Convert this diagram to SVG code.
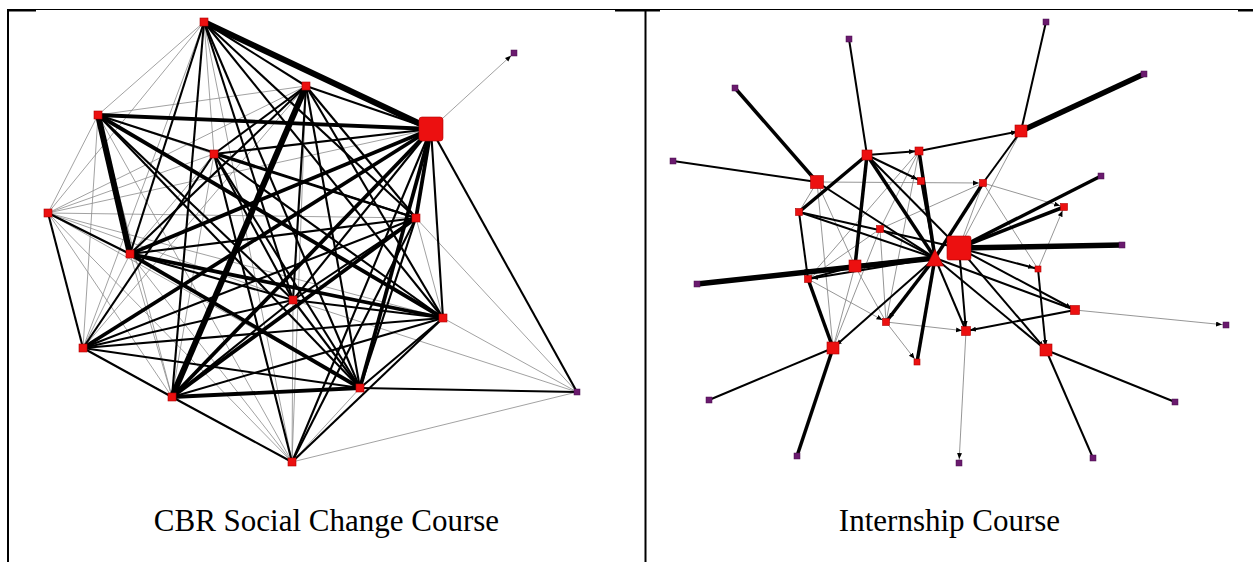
<svg xmlns="http://www.w3.org/2000/svg" width="1253" height="562" viewBox="0 0 1253 562">
<style>
.t{stroke:#8a8a8a;stroke-width:0.8;fill:none}
.m{stroke:#000;stroke-width:2.1;fill:none}
.k{stroke:#000;stroke-width:3.8;fill:none}
.x{stroke:#000;stroke-width:6;fill:none}
.rt{stroke:#8a8a8a;stroke-width:0.9;fill:none}
.rm{stroke:#000;stroke-width:2;fill:none}
.rk{stroke:#000;stroke-width:3.5;fill:none}
.rx{stroke:#000;stroke-width:5.5;fill:none}
.red{fill:#ec1010;stroke:#b00000;stroke-width:0.6}
.pur{fill:#6a1a6e;stroke:#4a0f4e;stroke-width:0.5}
.frame{stroke:#000;fill:none}
.lbl{font-family:"Liberation Serif","Times New Roman",serif;font-size:31px;fill:#000;text-anchor:middle}
</style>
<defs>
<marker id="ar" markerUnits="userSpaceOnUse" markerWidth="7" markerHeight="6" refX="10" refY="2.5" orient="auto">
<path d="M0,0 L6,2.5 L0,5 z" fill="#000"/>
</marker>
</defs>
<g id="frame">
<line class="frame" x1="7" y1="9.5" x2="1253" y2="9.5" stroke-width="1"/>
<line class="frame" x1="8" y1="9" x2="8" y2="562" stroke-width="2"/>
<line class="frame" x1="645.5" y1="9" x2="645.5" y2="562" stroke-width="2"/>
<line class="frame" x1="8" y1="10.5" x2="36" y2="10.5" stroke-width="2"/>
<line class="frame" x1="615" y1="10.5" x2="660" y2="10.5" stroke-width="2"/>
<line class="frame" x1="1238" y1="10.5" x2="1253" y2="10.5" stroke-width="2"/>
</g>
<g id="connectors-left">
<line class="t" x1="204" y1="22" x2="98" y2="115"/>
<line class="t" x1="204" y1="22" x2="214" y2="154"/>
<line class="t" x1="204" y1="22" x2="48" y2="213"/>
<line class="t" x1="204" y1="22" x2="83" y2="348"/>
<line class="t" x1="204" y1="22" x2="292" y2="462"/>
<line class="t" x1="306" y1="86" x2="98" y2="115"/>
<line class="t" x1="306" y1="86" x2="48" y2="213"/>
<line class="t" x1="306" y1="86" x2="83" y2="348"/>
<line class="t" x1="306" y1="86" x2="292" y2="462"/>
<line class="t" x1="431" y1="129" x2="48" y2="213"/>
<line class="t" x1="98" y1="115" x2="214" y2="154"/>
<line class="t" x1="98" y1="115" x2="48" y2="213"/>
<line class="t" x1="98" y1="115" x2="83" y2="348"/>
<line class="t" x1="98" y1="115" x2="172" y2="397"/>
<line class="t" x1="98" y1="115" x2="292" y2="462"/>
<line class="t" x1="214" y1="154" x2="48" y2="213"/>
<line class="t" x1="214" y1="154" x2="130" y2="254"/>
<line class="t" x1="214" y1="154" x2="172" y2="397"/>
<line class="t" x1="48" y1="213" x2="416" y2="218"/>
<line class="t" x1="48" y1="213" x2="293" y2="300"/>
<line class="t" x1="48" y1="213" x2="443" y2="318"/>
<line class="t" x1="48" y1="213" x2="172" y2="397"/>
<line class="t" x1="48" y1="213" x2="360" y2="388"/>
<line class="t" x1="48" y1="213" x2="292" y2="462"/>
<line class="t" x1="416" y1="218" x2="443" y2="318"/>
<line class="t" x1="130" y1="254" x2="83" y2="348"/>
<line class="t" x1="130" y1="254" x2="172" y2="397"/>
<line class="t" x1="130" y1="254" x2="292" y2="462"/>
<line class="t" x1="293" y1="300" x2="292" y2="462"/>
<line class="t" x1="83" y1="348" x2="292" y2="462"/>
<line class="t" x1="360" y1="388" x2="292" y2="462"/>
<line class="t" x1="431" y1="129" x2="514" y2="53" marker-end="url(#ar)"/>
<line class="t" x1="416" y1="218" x2="577" y2="392"/>
<line class="t" x1="443" y1="318" x2="577" y2="392"/>
<line class="t" x1="293" y1="300" x2="577" y2="392"/>
<line class="t" x1="292" y1="462" x2="577" y2="392"/>
<line class="m" x1="204" y1="22" x2="306" y2="86"/>
<line class="m" x1="204" y1="22" x2="416" y2="218"/>
<line class="m" x1="204" y1="22" x2="130" y2="254"/>
<line class="m" x1="204" y1="22" x2="293" y2="300"/>
<line class="m" x1="204" y1="22" x2="443" y2="318"/>
<line class="m" x1="204" y1="22" x2="172" y2="397"/>
<line class="m" x1="204" y1="22" x2="360" y2="388"/>
<line class="m" x1="306" y1="86" x2="431" y2="129"/>
<line class="m" x1="306" y1="86" x2="214" y2="154"/>
<line class="m" x1="306" y1="86" x2="416" y2="218"/>
<line class="m" x1="306" y1="86" x2="130" y2="254"/>
<line class="m" x1="306" y1="86" x2="293" y2="300"/>
<line class="m" x1="306" y1="86" x2="443" y2="318"/>
<line class="m" x1="306" y1="86" x2="360" y2="388"/>
<line class="m" x1="431" y1="129" x2="214" y2="154"/>
<line class="m" x1="431" y1="129" x2="293" y2="300"/>
<line class="m" x1="431" y1="129" x2="443" y2="318"/>
<line class="m" x1="431" y1="129" x2="292" y2="462"/>
<line class="m" x1="98" y1="115" x2="416" y2="218"/>
<line class="m" x1="98" y1="115" x2="293" y2="300"/>
<line class="m" x1="98" y1="115" x2="360" y2="388"/>
<line class="m" x1="214" y1="154" x2="416" y2="218"/>
<line class="m" x1="214" y1="154" x2="293" y2="300"/>
<line class="m" x1="214" y1="154" x2="443" y2="318"/>
<line class="m" x1="214" y1="154" x2="83" y2="348"/>
<line class="m" x1="214" y1="154" x2="360" y2="388"/>
<line class="m" x1="214" y1="154" x2="292" y2="462"/>
<line class="m" x1="48" y1="213" x2="130" y2="254"/>
<line class="m" x1="48" y1="213" x2="83" y2="348"/>
<line class="m" x1="416" y1="218" x2="130" y2="254"/>
<line class="m" x1="416" y1="218" x2="293" y2="300"/>
<line class="m" x1="416" y1="218" x2="83" y2="348"/>
<line class="m" x1="416" y1="218" x2="360" y2="388"/>
<line class="m" x1="416" y1="218" x2="292" y2="462"/>
<line class="m" x1="130" y1="254" x2="293" y2="300"/>
<line class="m" x1="293" y1="300" x2="443" y2="318"/>
<line class="m" x1="293" y1="300" x2="83" y2="348"/>
<line class="m" x1="293" y1="300" x2="172" y2="397"/>
<line class="m" x1="293" y1="300" x2="360" y2="388"/>
<line class="m" x1="443" y1="318" x2="83" y2="348"/>
<line class="m" x1="443" y1="318" x2="172" y2="397"/>
<line class="m" x1="443" y1="318" x2="360" y2="388"/>
<line class="m" x1="443" y1="318" x2="292" y2="462"/>
<line class="m" x1="83" y1="348" x2="172" y2="397"/>
<line class="m" x1="83" y1="348" x2="360" y2="388"/>
<line class="m" x1="172" y1="397" x2="292" y2="462"/>
<line class="m" x1="431" y1="129" x2="577" y2="392"/>
<line class="m" x1="360" y1="388" x2="577" y2="392"/>
<line class="k" x1="431" y1="129" x2="98" y2="115"/>
<line class="k" x1="431" y1="129" x2="416" y2="218"/>
<line class="k" x1="431" y1="129" x2="130" y2="254"/>
<line class="k" x1="431" y1="129" x2="83" y2="348"/>
<line class="k" x1="431" y1="129" x2="172" y2="397"/>
<line class="k" x1="431" y1="129" x2="360" y2="388"/>
<line class="k" x1="98" y1="115" x2="443" y2="318"/>
<line class="k" x1="416" y1="218" x2="172" y2="397"/>
<line class="k" x1="130" y1="254" x2="443" y2="318"/>
<line class="k" x1="130" y1="254" x2="360" y2="388"/>
<line class="k" x1="172" y1="397" x2="360" y2="388"/>
<line class="x" x1="204" y1="22" x2="431" y2="129"/>
<line class="x" x1="98" y1="115" x2="130" y2="254"/>
<line class="x" x1="306" y1="86" x2="172" y2="397"/>
</g>
<g id="nodes-left">
<g id="L-A"><rect class="red" x="200" y="18" width="8" height="8"/></g>
<g id="L-B"><rect class="red" x="302" y="82" width="8" height="8"/></g>
<g id="L-C"><rect class="red" x="419" y="117" width="24" height="24" rx="3"/></g>
<g id="L-P1"><rect class="pur" x="511" y="50" width="6" height="6"/></g>
<g id="L-D"><rect class="red" x="94" y="111" width="8" height="8"/></g>
<g id="L-E"><rect class="red" x="210" y="150" width="8" height="8"/></g>
<g id="L-F"><rect class="red" x="44" y="209" width="8" height="8"/></g>
<g id="L-G"><rect class="red" x="412" y="214" width="8" height="8"/></g>
<g id="L-H"><rect class="red" x="126" y="250" width="8" height="8"/></g>
<g id="L-I"><rect class="red" x="289" y="296" width="8" height="8"/></g>
<g id="L-J"><rect class="red" x="439" y="314" width="8" height="8"/></g>
<g id="L-K"><rect class="red" x="79" y="344" width="8" height="8"/></g>
<g id="L-M"><rect class="red" x="168" y="393" width="8" height="8"/></g>
<g id="L-N"><rect class="red" x="356" y="384" width="8" height="8"/></g>
<g id="L-P2"><rect class="pur" x="574" y="389" width="6" height="6"/></g>
<g id="L-O"><rect class="red" x="288" y="458" width="8" height="8"/></g>
</g>
<g id="connectors-right">
<line class="rt" x1="817" y1="182" x2="983" y2="183" marker-end="url(#ar)"/>
<line class="rt" x1="817" y1="182" x2="799" y2="212"/>
<line class="rt" x1="817" y1="182" x2="855" y2="266"/>
<line class="rt" x1="817" y1="182" x2="833" y2="348"/>
<line class="rt" x1="919" y1="151" x2="808" y2="279"/>
<line class="rt" x1="919" y1="151" x2="880" y2="229"/>
<line class="rt" x1="919" y1="151" x2="886" y2="322"/>
<line class="rt" x1="880" y1="229" x2="808" y2="279"/>
<line class="rt" x1="880" y1="229" x2="886" y2="322"/>
<line class="rt" x1="880" y1="229" x2="833" y2="348"/>
<line class="rt" x1="880" y1="229" x2="983" y2="183"/>
<line class="rt" x1="1021" y1="131" x2="959" y2="248"/>
<line class="rt" x1="983" y1="183" x2="1064" y2="207" marker-end="url(#ar)"/>
<line class="rt" x1="983" y1="183" x2="1038" y2="269"/>
<line class="rt" x1="983" y1="183" x2="959" y2="248"/>
<line class="rt" x1="1038" y1="269" x2="1064" y2="207" marker-end="url(#ar)"/>
<line class="rt" x1="1075" y1="310" x2="1226" y2="325" marker-end="url(#ar)"/>
<line class="rt" x1="966" y1="331" x2="959" y2="463" marker-end="url(#ar)"/>
<line class="rt" x1="855" y1="266" x2="886" y2="322"/>
<line class="rt" x1="855" y1="266" x2="833" y2="348"/>
<line class="rt" x1="808" y1="279" x2="886" y2="322" marker-end="url(#ar)"/>
<line class="rt" x1="886" y1="322" x2="917" y2="362" marker-end="url(#ar)"/>
<line class="rt" x1="886" y1="322" x2="966" y2="331" marker-end="url(#ar)"/>
<line class="rt" x1="959" y1="248" x2="1075" y2="310"/>
<line class="rm" x1="849" y1="39" x2="867" y2="155"/>
<line class="rm" x1="673" y1="161" x2="817" y2="182"/>
<line class="rm" x1="817" y1="182" x2="935" y2="258"/>
<line class="rm" x1="867" y1="155" x2="919" y2="151" marker-end="url(#ar)"/>
<line class="rm" x1="867" y1="155" x2="921" y2="181" marker-end="url(#ar)"/>
<line class="rm" x1="867" y1="155" x2="959" y2="248"/>
<line class="rm" x1="919" y1="151" x2="1021" y2="131" marker-end="url(#ar)"/>
<line class="rm" x1="921" y1="181" x2="935" y2="258"/>
<line class="rm" x1="799" y1="212" x2="808" y2="279" marker-end="url(#ar)"/>
<line class="rm" x1="799" y1="212" x2="935" y2="258"/>
<line class="rm" x1="799" y1="212" x2="959" y2="248"/>
<line class="rm" x1="880" y1="229" x2="935" y2="258"/>
<line class="rm" x1="1046" y1="22" x2="1021" y2="131"/>
<line class="rm" x1="1021" y1="131" x2="983" y2="183"/>
<line class="rm" x1="959" y1="248" x2="1038" y2="269" marker-end="url(#ar)"/>
<line class="rm" x1="959" y1="248" x2="1075" y2="310" marker-end="url(#ar)"/>
<line class="rm" x1="959" y1="248" x2="966" y2="331" marker-end="url(#ar)"/>
<line class="rm" x1="959" y1="248" x2="1046" y2="350" marker-end="url(#ar)"/>
<line class="rm" x1="1038" y1="269" x2="1046" y2="350" marker-end="url(#ar)"/>
<line class="rm" x1="1075" y1="310" x2="966" y2="331" marker-end="url(#ar)"/>
<line class="rm" x1="1046" y1="350" x2="1175" y2="402"/>
<line class="rm" x1="1046" y1="350" x2="1093" y2="458"/>
<line class="rm" x1="935" y1="258" x2="808" y2="279" marker-end="url(#ar)"/>
<line class="rm" x1="935" y1="258" x2="833" y2="348" marker-end="url(#ar)"/>
<line class="rm" x1="935" y1="258" x2="966" y2="331"/>
<line class="rm" x1="935" y1="258" x2="1046" y2="350"/>
<line class="rm" x1="935" y1="258" x2="1075" y2="310"/>
<line class="rm" x1="855" y1="266" x2="808" y2="279"/>
<line class="rm" x1="833" y1="348" x2="709" y2="400"/>
<line class="rk" x1="735" y1="88" x2="817" y2="182"/>
<line class="rk" x1="867" y1="155" x2="799" y2="212"/>
<line class="rk" x1="867" y1="155" x2="855" y2="266"/>
<line class="rk" x1="867" y1="155" x2="935" y2="258"/>
<line class="rk" x1="919" y1="151" x2="935" y2="258"/>
<line class="rk" x1="983" y1="183" x2="935" y2="258"/>
<line class="rk" x1="1101" y1="176" x2="959" y2="248"/>
<line class="rk" x1="1064" y1="207" x2="959" y2="248"/>
<line class="rk" x1="935" y1="258" x2="855" y2="266"/>
<line class="rk" x1="935" y1="258" x2="886" y2="322" marker-end="url(#ar)"/>
<line class="rk" x1="935" y1="258" x2="917" y2="362"/>
<line class="rk" x1="808" y1="279" x2="833" y2="348"/>
<line class="rk" x1="833" y1="348" x2="797" y2="456"/>
<line class="rx" x1="1144" y1="74" x2="1021" y2="131"/>
<line class="rx" x1="1122" y1="245" x2="959" y2="248"/>
<line class="rx" x1="935" y1="258" x2="697" y2="284"/>
</g>
<g id="nodes-right">
<g id="R1"><rect class="pur" x="846" y="36" width="6" height="6"/></g>
<g id="R2"><rect class="pur" x="732" y="85" width="6" height="6"/></g>
<g id="R3"><rect class="pur" x="670" y="158" width="6" height="6"/></g>
<g id="R4"><rect class="red" x="810.5" y="175.5" width="13" height="13"/></g>
<g id="R5"><rect class="red" x="862" y="150" width="10" height="10"/></g>
<g id="R6"><rect class="red" x="915" y="147" width="8" height="8"/></g>
<g id="R7"><rect class="red" x="917.5" y="177.5" width="7" height="7"/></g>
<g id="R8"><rect class="red" x="795.5" y="208.5" width="7" height="7"/></g>
<g id="R9"><rect class="red" x="876.5" y="225.5" width="7" height="7"/></g>
<g id="R10"><rect class="pur" x="1043" y="19" width="6" height="6"/></g>
<g id="R11"><rect class="pur" x="1141" y="71" width="6" height="6"/></g>
<g id="R12"><rect class="red" x="1015" y="125" width="12" height="12"/></g>
<g id="R13"><rect class="red" x="979.5" y="179.5" width="7" height="7"/></g>
<g id="R14"><rect class="pur" x="1098" y="173" width="6" height="6"/></g>
<g id="R15"><rect class="red" x="1060.5" y="203.5" width="7" height="7"/></g>
<g id="R16"><rect class="red" x="947" y="236" width="24" height="24" rx="2"/></g>
<g id="R17"><rect class="pur" x="1119" y="242" width="6" height="6"/></g>
<g id="R18"><rect class="red" x="1035" y="266" width="6" height="6"/></g>
<g id="R19"><rect class="red" x="1070.5" y="305.5" width="9" height="9"/></g>
<g id="R20"><rect class="pur" x="1223" y="322" width="6" height="6"/></g>
<g id="R21"><rect class="red" x="961.5" y="326.5" width="9" height="9"/></g>
<g id="R22"><rect class="red" x="1040" y="344" width="12" height="12"/></g>
<g id="R23"><rect class="pur" x="1172" y="399" width="6" height="6"/></g>
<g id="R24"><rect class="pur" x="1090" y="455" width="6" height="6"/></g>
<g id="R25"><rect class="pur" x="956" y="460" width="6" height="6"/></g>
<g id="R26"><polygon class="red" points="935,249.5 926.5,266 943.5,266"/></g>
<g id="R27"><rect class="red" x="849" y="260" width="12" height="12"/></g>
<g id="R28"><rect class="red" x="804.5" y="275.5" width="7" height="7"/></g>
<g id="R29"><rect class="pur" x="694" y="281" width="6" height="6"/></g>
<g id="R30"><rect class="red" x="882.5" y="318.5" width="7" height="7"/></g>
<g id="R31"><rect class="red" x="827" y="342" width="12" height="12"/></g>
<g id="R32"><rect class="red" x="914" y="359" width="6" height="6"/></g>
<g id="R33"><rect class="pur" x="706" y="397" width="6" height="6"/></g>
<g id="R34"><rect class="pur" x="794" y="453" width="6" height="6"/></g>
</g>
<g id="labels">
<text class="lbl" x="326.5" y="531">CBR Social Change Course</text>
<text class="lbl" x="949.5" y="531">Internship Course</text>
</g>
</svg>
